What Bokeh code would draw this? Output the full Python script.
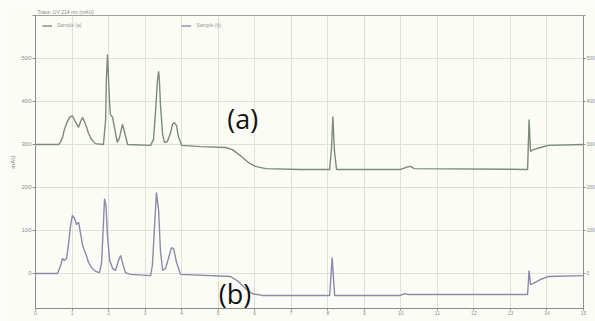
from bokeh.plotting import figure
from bokeh.models import Label, FixedTicker, Legend, LegendItem, Range1d, LinearAxis, Title
from bokeh.embed import file_html
from bokeh.resources import INLINE

# retention time (min) and detector signal (mAU)
time_a = [0.00, 0.63, 0.68, 0.74, 0.79, 0.85, 0.93, 1.01, 1.09, 1.18, 1.23, 1.29, 1.34, 1.40, 1.45, 1.53,
          1.64, 1.86, 1.92, 1.94, 1.97, 2.00, 2.03, 2.05, 2.11, 2.16, 2.24, 2.30, 2.38, 2.44, 2.52,
          3.15, 3.23, 3.28, 3.34, 3.37, 3.39, 3.42, 3.48, 3.53, 3.61, 3.70, 3.75, 3.80, 3.86, 3.91, 4.00,
          4.52, 5.20, 5.39, 5.61, 5.83, 6.02, 6.30, 7.25, 8.05, 8.10, 8.14, 8.18, 8.24,
          9.99, 10.15, 10.26, 10.37, 13.47, 13.51, 13.55, 13.63, 13.82, 14.04, 15.00]
signal_a = [0, 0, 5, 16, 35, 49, 63, 67, 53, 40, 53, 63, 53, 40, 26, 12,
            2, 0, 58, 151, 209, 151, 93, 70, 63, 40, 5, 16, 47, 28, 0,
            -2, 12, 70, 151, 170, 151, 93, 23, 5, 7, 28, 47, 51, 44, 19, -2,
            -5, -7, -12, -26, -42, -51, -56, -58, -58, -12, 65, -12, -58,
            -58, -53, -51, -56, -58, 58, -16, -12, -7, -2, 0]

time_b = [0.00, 0.60, 0.68, 0.74, 0.79, 0.85, 0.90, 0.96, 1.01, 1.07, 1.12, 1.18, 1.23, 1.29, 1.34, 1.40,
          1.45, 1.53, 1.64, 1.75, 1.81, 1.85, 1.89, 1.93, 1.97, 2.03, 2.11, 2.19, 2.27, 2.33, 2.38, 2.46,
          2.60, 3.15, 3.20, 3.26, 3.31, 3.37, 3.42, 3.48, 3.56, 3.64, 3.72, 3.78, 3.86, 3.97,
          5.34, 5.56, 5.75, 5.94, 6.21, 8.05, 8.08, 8.12, 8.16, 8.19,
          9.99, 10.10, 10.21, 11.91, 13.47, 13.51, 13.55, 13.66, 13.82, 14.04, 15.00]
signal_b = [0, 0, 16, 35, 30, 35, 65, 112, 135, 128, 114, 119, 95, 65, 53, 40,
            26, 14, 5, 2, 26, 100, 174, 158, 88, 30, 12, 7, 30, 42, 26, 2,
            -2, -5, 19, 112, 188, 147, 53, 7, 12, 35, 60, 58, 26, -2,
            -7, -19, -35, -47, -51, -51, -16, 37, -16, -51,
            -51, -47, -49, -49, -49, 7, -26, -21, -14, -7, -5]

offset_a = 300          # trace (a) is drawn stacked above trace (b)
y_ticks = [0, 100, 200, 300, 400, 500, 600]
y_labels = ["0", "100", "200", "300", "400", "500", ""]
x_ticks = list(range(0, 16))
series_names = ["Sample (a)", "Sample (b)"]
header = "Trace: UV 214 nm (mAU)"
y_title = "mAU"

bg = "#fcfcf7"
p = figure(frame_width=548, frame_height=293, output_backend="svg", toolbar_location=None,
           x_range=Range1d(0, 15), y_range=Range1d(-81.4, 600),
           min_border_left=35, min_border_right=12, min_border_top=15, min_border_bottom=13,
           background_fill_color=bg, border_fill_color=bg,
           outline_line_color="#a0a0a0", outline_line_width=1)

p.add_layout(Title(text=header, text_font_size="5px", text_color="#888888",
                   text_font_style="normal", standoff=1, offset=2), "above")

ra = p.line(time_a, [s + offset_a for s in signal_a], line_color="#7b8b79", line_width=1.4)
rb = p.line(time_b, signal_b, line_color="#8a8aab", line_width=1.4)

p.xgrid.grid_line_color = "#e0e0da"
p.ygrid.grid_line_color = "#e0e0da"
p.xaxis.ticker = FixedTicker(ticks=x_ticks)
p.yaxis.ticker = FixedTicker(ticks=y_ticks)
p.yaxis.major_label_overrides = {t: l for t, l in zip(y_ticks, y_labels)}
p.xgrid.ticker = FixedTicker(ticks=x_ticks)
p.ygrid.ticker = FixedTicker(ticks=y_ticks)

right = LinearAxis(ticker=FixedTicker(ticks=y_ticks),
                   major_label_overrides={t: l for t, l in zip(y_ticks, y_labels)})
p.add_layout(right, "right")

for ax in p.xaxis + p.yaxis:
    ax.axis_line_color = "#8c8c8c"
    ax.major_tick_line_color = "#8c8c8c"
    ax.minor_tick_line_color = None
    ax.major_tick_in = 0
    ax.major_label_text_color = "#8c8c8c"
    ax.major_tick_out = 2
    ax.major_label_text_font_size = "5px"
    ax.major_label_standoff = 1
p.yaxis[0].major_tick_out = 3
p.yaxis[0].major_label_text_font_size = "6px"
p.yaxis[0].axis_label = y_title
p.yaxis[0].axis_label_text_font_size = "6px"
p.yaxis[0].axis_label_text_font_style = "normal"
p.yaxis[0].axis_label_text_color = "#777777"
p.yaxis[0].axis_label_standoff = 2
p.xaxis.major_label_standoff = 0

legend = Legend(items=[LegendItem(label=series_names[0], renderers=[ra]),
                       LegendItem(label=series_names[1], renderers=[rb])],
                orientation="horizontal", location="top_left",
                label_text_font_size="5px", label_text_color="#999999",
                glyph_width=10, glyph_height=5, label_height=5, spacing=100,
                padding=2, margin=7, border_line_color=None, background_fill_alpha=0)
p.add_layout(legend)

p.add_layout(Label(x=5.67, y=360, text="(a)", text_font="Open Sans", text_font_size="27px",
                   text_align="center", text_baseline="middle", text_color="#111111"))
p.add_layout(Label(x=5.46, y=-89, text="(b)", text_font="Open Sans", text_font_size="27px",
                   text_align="center", text_baseline="bottom", text_color="#111111"))

open("out.html", "w").write(file_html(p, INLINE))
